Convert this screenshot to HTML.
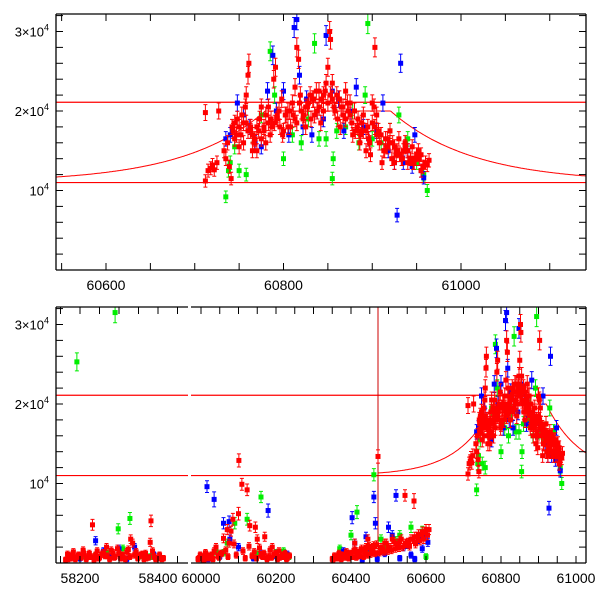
<!DOCTYPE html>
<html><head><meta charset="utf-8"><style>
html,body{margin:0;padding:0;background:#fff;}
svg{display:block;font-family:"Liberation Sans",sans-serif;}
</style></head><body>
<svg id="chart" width="600" height="600" viewBox="0 0 600 600" xmlns="http://www.w3.org/2000/svg"></svg>
<script>
// ---- data (flux in units of 1000) ----
const redT=[58170,58180,58190,58200,58210,58220,58232,58240,58250,58260,58270,58280,58290,58300,58310,58320,58330,58335,58340,58350,58360,58370,58380,58382,58390,58400,58410,
59995,60005,60015,60025,60035,60045,60055,60060,60070,60075,60080,60085,60101,60109,60100,60123,60130,60145,60150,60160,60170,60180,60190,60200,60210,60220,60230,
60350,60360,60370,60380,60390,60400,60410,60415,60420,60430,60440,60445,60455,60460,60472,60480,60490,60500,60510,60520,60530,60544,60545,60568,60560,60570,60580,60590,60600,
60712,60712,60715,60718,60720,60722,60725,60727,60733,60735,60737,60739,60741,60743,60745,60748,60750,60752,60755,60757,60758,60760,60761,60763,60765,60768,60770,60772,60775,60778,60780,60783,60786,60789,60791,60793,60796,60799,60802,60805,60808,60811,60813,60815,60817,60819,60822,60825,60828,60831,60834,60837,60840,60842,60845,60848,60850,60852,60853,60855,60858,60861,60864,60867,60870,60872,60875,60878,60881,60884,60886,60888,60890,60893,60896,60898,60900,60902,60903,60905,60908,60911,60914,60917,60920,60922,60925,60928,60931,60934,60937,60940,60943,60946,60949,60952,60955,60957,60960,60962,60964];
const redF=[0.5,1.0,0.7,0.9,1.2,0.8,4.8,1.0,0.7,1.3,0.9,1.6,0.8,1.2,0.7,1.4,3.0,2.5,1.0,0.8,1.1,0.6,2.6,5.3,0.8,0.6,0.5,
0.6,0.8,1.0,0.7,1.5,0.9,1.2,3.1,4.2,2.5,4.0,5.5,12.9,9.9,6.2,9.2,4.7,4.5,3.0,1.0,3.3,0.8,2.0,1.2,0.7,1.0,0.6,
0.5,0.7,0.9,1.0,0.8,1.2,2.5,1.5,1.3,1.6,2.0,3.0,1.8,2.2,13.4,2.0,2.5,2.0,3.0,2.5,2.8,8.5,2.5,7.8,3.0,3.3,3.6,3.9,4.2,
19.8,11.2,12.5,12.8,13.2,12.6,13.5,20.0,15.0,14.0,16.0,13.0,11.5,17.5,18.5,19.0,18.0,17.0,18.5,20.5,22.0,24.5,26.0,18.0,17.0,16.5,15.0,17.5,20.5,18.0,16.0,18.5,19.0,24.0,25.5,19.5,18.0,17.0,19.5,20.0,18.0,19.5,23.0,28.0,26.5,22.0,19.0,20.5,21.0,19.0,21.5,22.5,20.5,18.5,22.0,23.5,25.5,30.0,29.0,21.5,20.0,19.0,18.0,19.5,22.5,21.0,19.5,17.0,17.5,19.0,16.0,18.5,17.5,15.0,16.5,14.5,21.0,20.5,28.0,17.0,16.0,13.5,15.0,16.5,16.0,14.0,13.5,15.0,14.5,14.0,15.5,15.0,14.0,13.5,14.0,15.0,14.5,13.0,13.5,13.2,13.8];
const red2T=[60745,60750,60755,60760,60765,60770,60775,60780,60785,60790,60795,60800,60805,60810,60815,60820,60825,60830,60835,60840,60845,60850,60855,60860,60865,60870,60875,60880,60885,60890,60895,60900,60905,60910,60915,60920,60925,60930,60935,60940,60945,60950,60955];
const red2F=[16.5,15.5,16.0,17.5,15.0,18.0,16.5,19.5,17.0,18.5,20.0,17.5,18.0,21.0,18.5,20.0,18.0,22.0,19.5,22.5,20.0,21.0,23.5,22.0,20.5,19.0,21.0,20.0,17.5,19.5,18.0,18.5,19.5,17.0,16.5,17.5,15.5,16.5,15.0,13.5,15.5,14.5,12.5];
const red3T=[60742,60747,60753,60758,60763,60767,60773,60778,60783,60787,60793,60798,60803,60807,60813,60818,60823,60827,60833,60838,60843,60847,60853,60857,60863,60867,60873,60877,60883,60887,60893,60897,60903,60907,60913,60917,60923,60927,60933,60937,60943,60947,60953];
const red3F=[18.0,17.0,19.5,18.5,17.5,16.0,19.0,17.5,20.5,18.0,19.0,21.5,19.5,20.0,19.0,21.0,19.5,20.5,21.5,20.0,21.5,22.5,22.0,20.5,21.5,20.5,20.0,18.5,18.0,17.0,17.5,16.0,18.0,17.5,15.0,15.5,16.0,14.5,14.0,16.0,14.0,13.5,14.0];
const redLowT=[58163,58168,58176,58183,58188,58196,58203,58208,58216,58224,58228,58236,58244,58248,58256,58264,58268,58276,58284,58288,58296,58304,58308,58316,58324,58328,58344,58348,58356,58364,58368,58376,58386,58394,58404,58414,
59992,59998,60008,60012,60020,60028,60032,60040,60048,60052,60066,60072,60088,60094,60112,60118,60128,60136,60142,60148,60156,60164,60168,60176,60184,60188,60196,60204,60208,60216,60224,60228,60236,
60352,60356,60364,60368,60374,60378,60384,60388,60394,60398,60404,60408,60414,60418,60424,60428,60434,60438,60444,60448,60452,60458,60464,60468,60476,60484,60488,60494,60498,60504,60508,60514,60518,60524,60528,60534,60538,60548,60552,60556,60564,60572,60576,60584,60588,60594,60598,60604,60608];
const redLowF=[0.4,1.1,0.6,1.4,0.5,1.0,0.7,1.6,0.5,1.2,0.8,0.4,1.5,0.6,1.1,0.9,2.0,0.5,1.3,0.7,1.8,0.6,1.0,0.5,1.7,0.8,1.4,0.6,1.0,0.5,1.2,0.7,1.5,0.5,1.0,0.6,
0.5,1.0,0.4,1.3,0.6,1.0,0.5,2.0,0.7,1.2,1.6,0.8,2.4,1.0,1.5,0.6,2.1,0.9,1.4,0.6,1.9,0.8,1.2,0.5,1.6,0.7,1.1,0.5,1.5,0.8,1.2,0.5,0.9,
0.4,0.9,0.6,1.2,0.5,1.0,0.7,1.4,0.6,1.1,0.8,1.6,0.7,1.3,0.9,1.8,0.8,1.4,1.0,2.1,1.1,1.6,1.2,2.3,1.3,1.8,1.4,2.5,1.5,2.0,1.6,2.7,1.8,2.2,1.9,3.0,2.0,2.4,2.6,2.1,3.0,2.4,3.3,2.8,3.6,3.0,3.9,3.5,4.2];
const blueT=[58240,58260,58300,58350,58390,60016,60035,60060,60075,60077,60160,60179,60230,60360,60403,60420,60440,60461,60465,60500,60520,60540,60560,60580,60600,
60735,60740,60748,60755,60762,60768,60775,60782,60788,60792,60800,60806,60812,60815,60818,60822,60826,60832,60838,60845,60848,60855,60862,60868,60875,60882,60890,60896,60905,60912,60918,60925,60928,60932,60935,60940,60945,60948,60955,60958];
const blueF=[2.8,1.5,1.8,0.9,1.0,9.6,8.0,5.0,5.2,3.0,1.2,6.6,1.1,0.8,5.7,1.0,3.3,8.3,5.0,4.5,8.5,2.0,1.0,3.0,3.5,
16.5,17.0,21.0,19.5,18.0,16.0,15.5,22.5,27.0,20.0,22.5,17.0,30.5,31.5,24.5,18.0,21.5,17.0,20.0,19.0,29.5,22.5,21.5,17.5,20.0,23.0,18.0,16.5,17.5,21.0,15.0,13.5,6.9,26.0,13.5,15.0,13.0,17.0,12.5,11.6];
const blueLowT=[58200,58280,58320,58340,58370,60020,60050,60100,60140,60200,60380,60410,60430,60450,60470,60490,60510,60530,60550,60570,60590,60605];
const blueLowF=[0.6,0.8,0.5,2.0,0.7,0.5,0.8,2.0,0.6,0.9,1.5,2.5,0.4,1.8,0.5,1.2,3.5,0.6,2.3,0.5,1.8,2.6];
const greenT=[58192,58240,58290,58298,58328,58360,60040,60060,60090,60123,60160,60200,60235,60416,60461,60480,60530,60560,60590,
60735,60738,60740,60745,60750,60758,60765,60775,60785,60790,60800,60810,60820,60828,60835,60840,60848,60855,60856,60860,60870,60878,60885,60892,60895,60900,60910,60920,60930,60940,60950,60958,60962];
const greenF=[25.3,1.0,31.5,4.3,5.6,0.9,1.6,1.3,5.0,5.5,8.3,1.3,0.8,6.4,11.1,3.0,3.5,4.5,4.0,
9.2,12.5,13.5,15.5,12.5,12.0,17.0,19.5,27.5,22.0,14.0,17.0,16.0,19.0,28.5,16.5,16.5,11.5,14.0,17.5,18.0,20.0,16.0,22.0,31.0,16.5,16.0,17.5,19.5,16.5,13.5,12.0,10.0];
const greenLowT=[58210,58270,58310,58380,60030,60070,60150,60220,60370,60400,60440,60490,60520,60580,60600];
const greenLowF=[0.9,1.2,1.8,0.8,1.0,2.5,1.1,1.5,1.8,3.5,1.2,2.0,2.8,3.0,0.8];
const hLines=[21.1,11.0];
const vLineT=[60472];
const xTicksTop=[60600,60800,61000];
const xTicksBot1=[58200,58400];
const xTicksBot2=[60000,60200,60400,60600,60800,61000];
const yTickLabels=[1,2,3];

const NS="http://www.w3.org/2000/svg";
const svg=document.getElementById('chart');
function el(tag,attrs,parent){const e=document.createElementNS(NS,tag);for(const k in attrs)e.setAttribute(k,attrs[k]);(parent||svg).appendChild(e);return e;}
const defs=el('defs',{});

const topP={y0:14,y1:270,tMin:60650,segs:[{x0:56,x1:586,t0:60600,px0:106,s:0.8875}]};
const botP={y0:307,y1:563,tMin:0,segs:[{x0:56,x1:188,t0:58200,px0:80,s:0.39},{x0:191,x1:586,t0:60000,px0:201,s:0.375}]};
function yS(p,f){return p.y1-f*(p.y1-p.y0)/32.2;}
function xS(seg,t){return seg.px0+(t-seg.t0)*seg.s;}
function tAt(seg,x){return seg.t0+(x-seg.px0)/seg.s;}

let clipN=0;
function drawPanel(p,name,labels,isBot){
  const g=el('g',{});
  
  
  p.segs.forEach((seg,si)=>{
    const cid='c'+(clipN++);
    const cp=el('clipPath',{id:cid},defs);
    el('rect',{x:seg.x0,y:p.y0,width:seg.x1-seg.x0,height:p.y1-p.y0},cp);
    const sg=el('g',{'clip-path':'url(#'+cid+')'},g);
    hLines.forEach(v=>{const l=el('line',{x1:seg.x0,x2:seg.x1,y1:yS(p,v),y2:yS(p,v),stroke:'#f00','stroke-width':1.2},sg);
      });
    let d='';const tStart=isBot?Math.max(vLineT[0],tAt(seg,seg.x0)):tAt(seg,seg.x0);
    if(tAt(seg,seg.x1)>tStart){
      for(let x=seg.x0;x<=seg.x1;x+=1){const t=tAt(seg,x);if(t<tStart)continue;
        const f=11.0+Math.min(9,3.8*Math.exp(-(Math.abs(t-60850)-150)/92));d+=(d?'L':'M')+x.toFixed(1)+','+yS(p,f).toFixed(1);}
      const c=el('path',{d:d,fill:'none',stroke:'#f00','stroke-width':1},sg);
      
    }
    if(isBot){vLineT.forEach(t=>{const x=xS(seg,t);if(x>seg.x0&&x<seg.x1){const l=el('line',{x1:x,x2:x,y1:p.y0,y2:p.y1,stroke:'#c00','stroke-width':1},sg);
      }});}
    const series=[[greenLowT,greenLowF,'#00ee00','green'],[greenT,greenF,'#00ee00','green'],[blueLowT,blueLowF,'#0000ff','blue'],[blueT,blueF,'#0000ff','blue'],
      [redLowT,redLowF,'#ff0000','red'],[redT,redF,'#ff0000','red'],[red2T,red2F,'#ff0000','red'],[red3T,red3F,'#ff0000','red']];
    series.forEach(([T,F,col,nm])=>{
      const sgr=el('g',{},sg);
      
      
      T.forEach((t,i)=>{
        if(t<p.tMin)return;
        const x=xS(seg,t);if(x<seg.x0-4||x>seg.x1+4)return;
        const y=yS(p,F[i]);const e=(F[i]>8?0.5+F[i]*0.025:0.3+F[i]*0.08)*(p.y1-p.y0)/32.2;
        const pt=el('g',{},sgr);
        
        
        el('path',{d:`M${x},${y-e}V${y+e}M${x-2},${y-e}H${x+2}M${x-2},${y+e}H${x+2}`,stroke:col,'stroke-width':1,fill:'none'},pt);
        el('rect',{x:x-2.5,y:y-2.5,width:5,height:5,fill:col},pt);
      });
    });
    el('line',{x1:seg.x0,x2:seg.x1,y1:p.y0,y2:p.y0,stroke:'#000','stroke-width':1.3},g);
    el('line',{x1:seg.x0,x2:seg.x1,y1:p.y1,y2:p.y1,stroke:'#000','stroke-width':1.3},g);
    for(let t=Math.ceil(tAt(seg,seg.x0)/50)*50;t<=tAt(seg,seg.x1);t+=50){const x=xS(seg,t);
      el('line',{x1:x,x2:x,y1:p.y1,y2:p.y1-7,stroke:'#000','stroke-width':1},g);
      el('line',{x1:x,x2:x,y1:p.y0,y2:p.y0+7,stroke:'#000','stroke-width':1},g);}
    labels[si].forEach(t=>{const tx=el('text',{x:xS(seg,t),y:p.y1+20,'text-anchor':'middle','font-size':14},g);tx.textContent=t;
      });
  });
  el('line',{x1:56,x2:56,y1:p.y0,y2:p.y1,stroke:'#000','stroke-width':1.3},g);
  el('line',{x1:586,x2:586,y1:p.y0,y2:p.y1,stroke:'#000','stroke-width':1.3},g);
  for(let f=2;f<=32;f+=2){const y=yS(p,f);
    el('line',{x1:56,x2:63,y1:y,y2:y,stroke:'#000','stroke-width':1},g);
    el('line',{x1:586,x2:579,y1:y,y2:y,stroke:'#000','stroke-width':1},g);}
  yTickLabels.forEach(m=>{const tx=el('text',{x:49,y:yS(p,m*10)+5,'text-anchor':'end','font-size':13},g);
    
    tx.textContent=(m===1?'':m+'×')+'10';const s=el('tspan',{'font-size':9,dy:-6},tx);s.textContent='4';});
}
drawPanel(topP,'top-panel',[xTicksTop],false);
drawPanel(botP,'bottom-panel',[xTicksBot1,xTicksBot2],true);
</script>
</body></html>
